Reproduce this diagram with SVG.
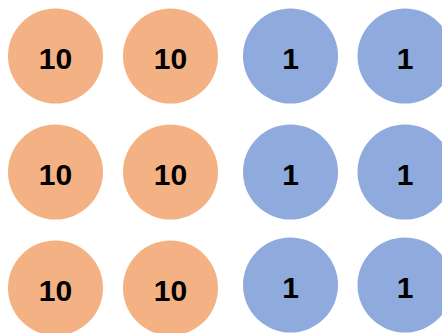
<svg xmlns="http://www.w3.org/2000/svg" width="442" height="333" viewBox="0 0 442 333">
<style>
.o{fill:#F4B183}
.b{fill:#8FAADC}
text{font-family:"Liberation Sans",Arial,sans-serif;font-weight:bold;font-size:30px;fill:#000;text-anchor:middle}
</style>
<rect width="442" height="333" fill="#fff"/>
<g id="n1"><circle class="o" cx="55.5" cy="56" r="47.5"/><text x="55.5" y="69">10</text></g>
<g id="n2"><circle class="o" cx="170.5" cy="56" r="47.5"/><text x="170.5" y="69">10</text></g>
<g id="n3"><circle class="b" cx="290.5" cy="56" r="47.5"/><text x="290.5" y="69">1</text></g>
<g id="n4"><circle class="b" cx="405" cy="56" r="47.5"/><text x="405" y="69">1</text></g>
<g id="n5"><circle class="o" cx="55.5" cy="172" r="47.5"/><text x="55.5" y="185">10</text></g>
<g id="n6"><circle class="o" cx="170.5" cy="172" r="47.5"/><text x="170.5" y="185">10</text></g>
<g id="n7"><circle class="b" cx="290.5" cy="172" r="47.5"/><text x="290.5" y="185">1</text></g>
<g id="n8"><circle class="b" cx="405" cy="172" r="47.5"/><text x="405" y="185">1</text></g>
<g id="n9"><circle class="o" cx="55.5" cy="288" r="47.5"/><text x="55.5" y="301">10</text></g>
<g id="n10"><circle class="o" cx="170.5" cy="288" r="47.5"/><text x="170.5" y="301">10</text></g>
<g id="n11"><circle class="b" cx="290.5" cy="285" r="47.5"/><text x="290.5" y="298">1</text></g>
<g id="n12"><circle class="b" cx="405" cy="285" r="47.5"/><text x="405" y="298">1</text></g>
<g id="connectors"/>
</svg>
